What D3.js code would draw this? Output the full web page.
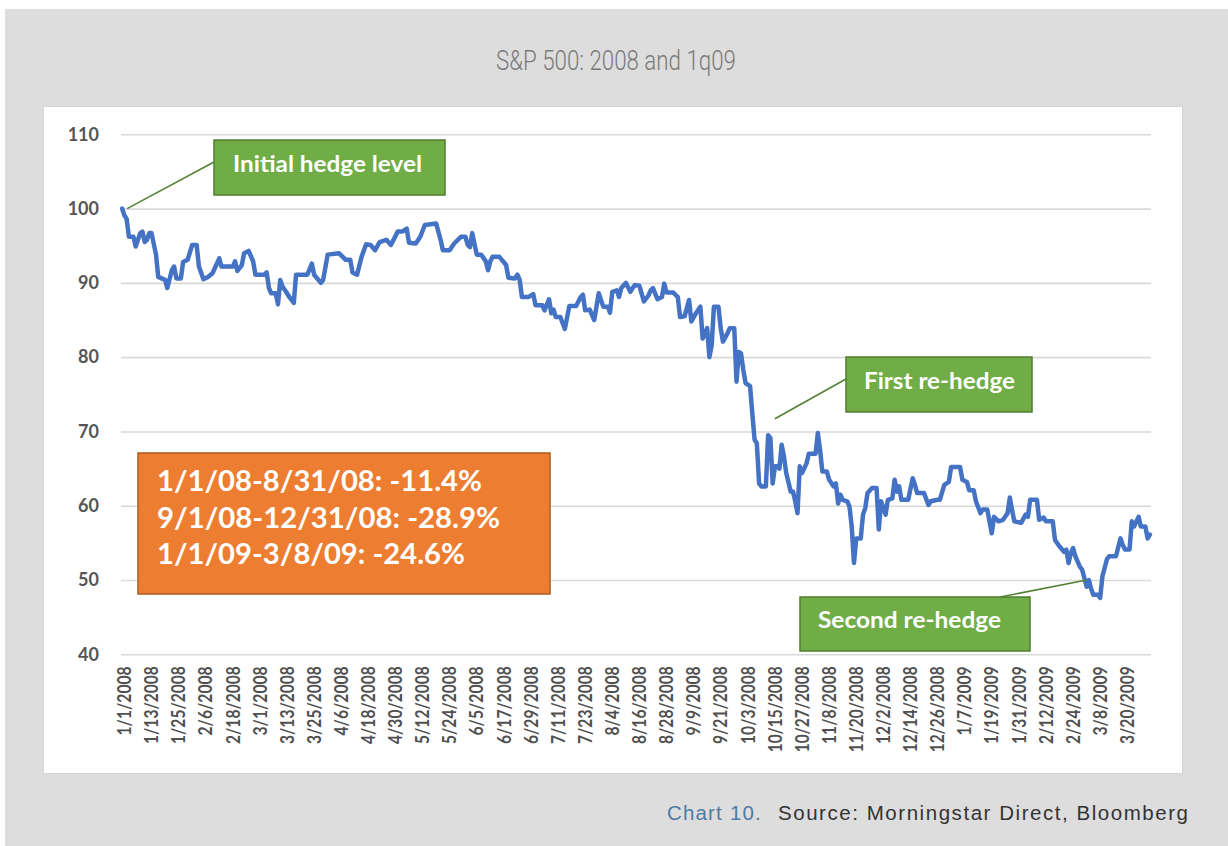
<!DOCTYPE html>
<html><head><meta charset="utf-8">
<script src="https://cdn.jsdelivr.net/npm/d3@7"></script>
<style>
html,body{margin:0;padding:0;background:#fff;}
svg{display:block;}
</style></head>
<body>
<script>
// ---------- DATA ----------
const title = "S&P 500: 2008 and 1q09";
const dates = [
"2008-01-01","2008-01-02","2008-01-03","2008-01-04","2008-01-06","2008-01-07","2008-01-09","2008-01-10","2008-01-11","2008-01-12",
"2008-01-13","2008-01-14","2008-01-16","2008-01-17","2008-01-20","2008-01-21","2008-01-23","2008-01-24","2008-01-25","2008-01-27",
"2008-01-28","2008-01-30","2008-02-01","2008-02-03","2008-02-04","2008-02-06","2008-02-08","2008-02-10","2008-02-13","2008-02-14",
"2008-02-19","2008-02-20","2008-02-21","2008-02-23","2008-02-24","2008-02-26","2008-02-28","2008-02-29","2008-03-04","2008-03-05",
"2008-03-06","2008-03-07","2008-03-09","2008-03-10","2008-03-11","2008-03-12","2008-03-14","2008-03-15","2008-03-17","2008-03-18",
"2008-03-23","2008-03-25","2008-03-26","2008-03-29","2008-03-30","2008-04-01","2008-04-06","2008-04-09","2008-04-11","2008-04-12",
"2008-04-14","2008-04-16","2008-04-18","2008-04-20","2008-04-22","2008-04-24","2008-04-27","2008-04-29","2008-05-02","2008-05-04",
"2008-05-06","2008-05-07","2008-05-10","2008-05-12","2008-05-14","2008-05-19","2008-05-21","2008-05-22","2008-05-25","2008-05-27",
"2008-05-30","2008-06-01","2008-06-02","2008-06-03","2008-06-04","2008-06-06","2008-06-08","2008-06-10","2008-06-11","2008-06-12",
"2008-06-13","2008-06-16","2008-06-19","2008-06-20","2008-06-23","2008-06-24","2008-06-25","2008-06-26","2008-06-29","2008-07-01",
"2008-07-02","2008-07-05","2008-07-06","2008-07-08","2008-07-09","2008-07-10","2008-07-11","2008-07-13","2008-07-15","2008-07-17",
"2008-07-20","2008-07-22","2008-07-23","2008-07-24","2008-07-26","2008-07-28","2008-07-30","2008-08-01","2008-08-03","2008-08-04",
"2008-08-05","2008-08-07","2008-08-08","2008-08-09","2008-08-11","2008-08-13","2008-08-14","2008-08-15","2008-08-17","2008-08-19",
"2008-08-21","2008-08-22","2008-08-23","2008-08-25","2008-08-27","2008-08-28","2008-08-29","2008-09-01","2008-09-03","2008-09-04",
"2008-09-06","2008-09-08","2008-09-09","2008-09-11","2008-09-13","2008-09-14","2008-09-16","2008-09-17","2008-09-18","2008-09-19",
"2008-09-21","2008-09-22","2008-09-23","2008-09-25","2008-09-26","2008-09-28","2008-09-29","2008-09-30","2008-10-01","2008-10-02",
"2008-10-03","2008-10-04","2008-10-05","2008-10-06","2008-10-07","2008-10-08","2008-10-09","2008-10-10","2008-10-12","2008-10-13",
"2008-10-14","2008-10-15","2008-10-16","2008-10-17","2008-10-18","2008-10-19","2008-10-20","2008-10-21","2008-10-23","2008-10-24",
"2008-10-25","2008-10-26","2008-10-27","2008-10-28","2008-10-30","2008-10-31","2008-11-03","2008-11-04","2008-11-05","2008-11-06",
"2008-11-08","2008-11-09","2008-11-11","2008-11-12","2008-11-13","2008-11-14","2008-11-15","2008-11-17","2008-11-18","2008-11-19",
"2008-11-20","2008-11-21","2008-11-23","2008-11-24","2008-11-25","2008-11-26","2008-11-28","2008-11-30","2008-12-01","2008-12-02",
"2008-12-03","2008-12-04","2008-12-05","2008-12-07","2008-12-08","2008-12-09","2008-12-10","2008-12-11","2008-12-14","2008-12-16",
"2008-12-17","2008-12-18","2008-12-21","2008-12-23","2008-12-24","2008-12-27","2008-12-28","2008-12-30","2009-01-01","2009-01-02",
"2009-01-06","2009-01-07","2009-01-09","2009-01-10","2009-01-12","2009-01-13","2009-01-15","2009-01-16","2009-01-18","2009-01-20",
"2009-01-21","2009-01-23","2009-01-25","2009-01-27","2009-01-28","2009-01-29","2009-01-30","2009-02-02","2009-02-04","2009-02-05",
"2009-02-06","2009-02-09","2009-02-10","2009-02-12","2009-02-13","2009-02-16","2009-02-17","2009-02-19","2009-02-21","2009-02-22",
"2009-02-23","2009-02-24","2009-02-25","2009-02-26","2009-02-28","2009-03-01","2009-03-03","2009-03-04","2009-03-05","2009-03-06",
"2009-03-08","2009-03-09","2009-03-10","2009-03-12","2009-03-13","2009-03-16","2009-03-18","2009-03-19","2009-03-20","2009-03-22",
"2009-03-23","2009-03-24","2009-03-26","2009-03-27","2009-03-29","2009-03-30","2009-03-31"
];
const values = [
100.0,99.1,98.6,96.2,96.2,94.9,96.7,96.9,95.5,95.8,
96.7,96.7,93.8,90.8,90.4,89.3,91.7,92.2,90.6,90.6,
92.8,93.1,95.1,95.1,92.2,90.5,90.8,91.3,93.3,92.2,
92.2,92.9,91.6,92.4,94.0,94.3,92.9,91.1,91.1,91.4,
89.3,88.6,88.6,87.1,90.4,89.5,88.6,88.1,87.3,91.1,
91.1,92.6,91.1,90.0,90.4,93.8,94.0,93.1,93.1,91.4,
91.1,93.5,95.2,95.1,94.4,95.5,95.8,95.1,96.9,96.9,
97.3,95.4,95.3,96.2,97.8,98.0,95.8,94.4,94.4,95.3,
96.2,96.2,95.1,94.8,96.7,93.8,93.8,92.9,91.7,92.9,
93.5,93.5,92.4,90.7,90.6,91.1,90.4,88.1,88.1,88.5,
87.0,87.0,86.3,87.8,85.9,86.4,85.4,85.4,83.8,86.9,
86.9,88.1,88.4,86.3,86.4,85.0,88.6,86.8,86.8,86.0,
88.8,89.0,88.1,89.3,90.0,88.8,89.3,89.7,89.6,87.5,
88.3,89.0,89.3,87.8,88.1,89.9,88.7,88.7,88.1,85.4,
85.5,87.7,84.8,85.9,86.8,82.5,83.9,80.0,81.6,86.8,
86.8,83.9,82.1,83.2,83.9,83.9,76.7,80.7,80.5,78.3,
76.5,76.3,76.1,72.4,68.9,68.4,63.0,62.6,62.6,69.5,
69.1,63.0,65.3,65.3,65.0,68.2,66.6,64.4,61.9,61.9,
60.6,59.0,65.3,64.4,65.7,67.0,67.0,69.8,67.5,64.6,
64.6,63.5,62.6,63.0,60.3,61.5,60.8,60.6,59.9,57.2,
52.3,55.6,55.6,58.8,59.7,61.7,62.4,62.4,56.8,60.6,
59.7,58.8,60.8,61.0,63.5,61.9,62.6,60.8,60.8,63.7,
62.8,61.7,61.7,60.1,60.6,60.8,60.8,62.8,63.2,65.2,
65.2,63.5,63.2,62.1,62.1,60.6,59.0,59.5,59.5,56.3,
58.5,57.9,58.1,59.0,61.1,59.4,57.9,57.7,58.8,58.5,
60.8,60.8,58.1,58.4,57.9,57.9,55.4,54.5,53.8,54.1,
52.3,53.6,54.3,53.2,51.8,51.4,49.1,50.0,48.8,48.0,
48.0,47.6,50.5,52.8,53.2,53.2,55.6,54.7,54.1,54.1,
57.9,57.2,58.5,57.2,57.2,55.6,56.1
];
const yTicks = [40, 50, 60, 70, 80, 90, 100, 110];
const xTickLabels = ["1/1/2008","1/13/2008","1/25/2008","2/6/2008","2/18/2008","3/1/2008","3/13/2008","3/25/2008",
"4/6/2008","4/18/2008","4/30/2008","5/12/2008","5/24/2008","6/5/2008","6/17/2008","6/29/2008","7/11/2008","7/23/2008",
"8/4/2008","8/16/2008","8/28/2008","9/9/2008","9/21/2008","10/3/2008","10/15/2008","10/27/2008","11/8/2008","11/20/2008",
"12/2/2008","12/14/2008","12/26/2008","1/7/2009","1/19/2009","1/31/2009","2/12/2009","2/24/2009","3/8/2009","3/20/2009"];
const statsLines = ["1/1/08-8/31/08: -11.4%", "9/1/08-12/31/08: -28.9%", "1/1/09-3/8/09: -24.6%"];
const callouts = [
  {text: "Initial hedge level", date: "2008-01-01", value: 100.0},
  {text: "First re-hedge", date: "2008-10-16", value: 71.7},
  {text: "Second re-hedge", date: "2009-03-03", value: 50.0}
];
const sourceLead = "Chart 10.";
const sourceText = "Source: Morningstar Direct, Bloomberg";

// ---------- DRAW ----------
const W = 1228, H = 846;
const svg = d3.select("body").append("svg").attr("width", W).attr("height", H);

svg.append("rect").attr("x", 5).attr("y", 9).attr("width", W - 5).attr("height", H - 9).attr("fill", "#dddddd");
svg.append("rect").attr("x", 43.5).attr("y", 106.5).attr("width", 1139).attr("height", 667)
  .attr("fill", "#ffffff").attr("stroke", "#d4d4d4").attr("stroke-width", 1);

svg.append("text").attr("x", 616).attr("y", 70).attr("text-anchor", "middle")
  .attr("font-family", "Roboto").attr("font-weight", 300).attr("font-size", 27)
  .attr("fill", "#7a7a7a").attr("textLength", 240).attr("lengthAdjust", "spacingAndGlyphs").text(title);

const parse = d3.utcParse("%Y-%m-%d");
const data = dates.map((d, i) => ({date: parse(d), value: values[i]}));
const day = 86400000;
const x0 = parse("2008-01-01"), x1 = parse("2009-04-01");
const x = d3.scaleUtc().domain([x0, x1]).range([121, 1151]);
const xc = d => x(new Date(+d + day / 2));
const y = d3.scaleLinear().domain([40, 110]).range([654.3, 134.3]);

const fontAxis = "Lato, 'Open Sans', sans-serif";

// gridlines + y labels
const yAxis = d3.axisLeft(y).tickValues(yTicks).tickSize(-(1151 - 121)).tickPadding(22);
const gy = svg.append("g").attr("transform", "translate(121,0)").call(yAxis);
gy.select(".domain").remove();
gy.selectAll(".tick line").attr("stroke", "#d9d9d9").attr("stroke-width", 1.6);
gy.selectAll(".tick text").attr("font-family", fontAxis).attr("font-size", 18).attr("font-weight", 700)
  .attr("fill", "#555555");

// x labels (every 12 days, rotated)
const xTickDates = xTickLabels.map(s => { const p = s.split("/"); return new Date(Date.UTC(+p[2], +p[0] - 1, +p[1])); });
const xAxis = d3.axisBottom(x).tickValues(xTickDates).tickSize(0).tickFormat((d, i) => xTickLabels[i]);
const gx = svg.append("g").attr("transform", "translate(0,654.3)").call(xAxis);
gx.select(".domain").remove();
gx.selectAll(".tick").attr("transform", d => `translate(${xc(d) + 2},0)`);
gx.selectAll(".tick text")
  .attr("font-family", fontAxis).attr("font-size", 18.5).attr("font-weight", 700).attr("fill", "#505050")
  .attr("text-anchor", "end").attr("dominant-baseline", "central")
  .attr("transform", "rotate(-90)").attr("x", -12).attr("y", 0).attr("dy", null)
  .attr("textLength", (d, i) => 8.4 * xTickLabels[i].length + 2).attr("lengthAdjust", "spacingAndGlyphs");

// line
const line = d3.line().x(d => xc(d.date)).y(d => y(d.value)).curve(d3.curveLinear);
svg.append("path").datum(data).attr("d", line).attr("fill", "none")
  .attr("stroke", "#4472c4").attr("stroke-width", 4.5).attr("stroke-linejoin", "round").attr("stroke-linecap", "round");

// callouts
const boxes = [
  {x: 214, y: 140, w: 231, h: 55, tx: 233, ty: 172, tl: 189, ax: 214, ay: 162},
  {x: 846, y: 357, w: 186, h: 55, tx: 864, ty: 389, tl: 151, ax: 846, ay: 379},
  {x: 800, y: 597, w: 230, h: 54, tx: 818, ty: 628, tl: 183, ax: 1000, ay: 597}
];
callouts.forEach((c, i) => {
  const b = boxes[i];
  const px = i === 0 ? xc(parse(c.date)) + 5 : xc(parse(c.date));
  svg.append("line").attr("x1", b.ax).attr("y1", b.ay).attr("x2", px).attr("y2", y(c.value))
    .attr("stroke", "#548235").attr("stroke-width", 1.6);
  svg.append("rect").attr("x", b.x).attr("y", b.y).attr("width", b.w).attr("height", b.h)
    .attr("fill", "#70ad47").attr("stroke", "#507e32").attr("stroke-width", 1.5);
  svg.append("text").attr("x", b.tx).attr("y", b.ty).attr("font-family", fontAxis).attr("font-size", 22)
    .attr("font-weight", 700).attr("fill", "#ffffff")
    .attr("textLength", b.tl).attr("lengthAdjust", "spacingAndGlyphs").text(c.text);
});

// stats box
svg.append("rect").attr("x", 138).attr("y", 453).attr("width", 412).attr("height", 141)
  .attr("fill", "#ed7d31").attr("stroke", "#ae5a21").attr("stroke-width", 1.5);
const statsLen = [325, 343, 308];
statsLines.forEach((s, i) => {
  svg.append("text").attr("x", 157).attr("y", 491 + i * 36.7).attr("font-family", fontAxis)
    .attr("font-size", 29).attr("font-weight", 700).attr("fill", "#ffffff")
    .attr("textLength", statsLen[i]).attr("lengthAdjust", "spacingAndGlyphs").text(s);
});

// source
svg.append("text").attr("x", 762).attr("y", 820).attr("text-anchor", "end")
  .attr("font-family", "'Liberation Sans', Arial, sans-serif").attr("font-size", 20.5).attr("letter-spacing", 1.2)
  .attr("fill", "#4f7aa3").text(sourceLead);
svg.append("text").attr("x", 778).attr("y", 820)
  .attr("font-family", "'Liberation Sans', Arial, sans-serif").attr("font-size", 20.5)
  .attr("fill", "#333333").attr("textLength", 410).attr("lengthAdjust", "spacing").text(sourceText);
</script>
</body></html>
